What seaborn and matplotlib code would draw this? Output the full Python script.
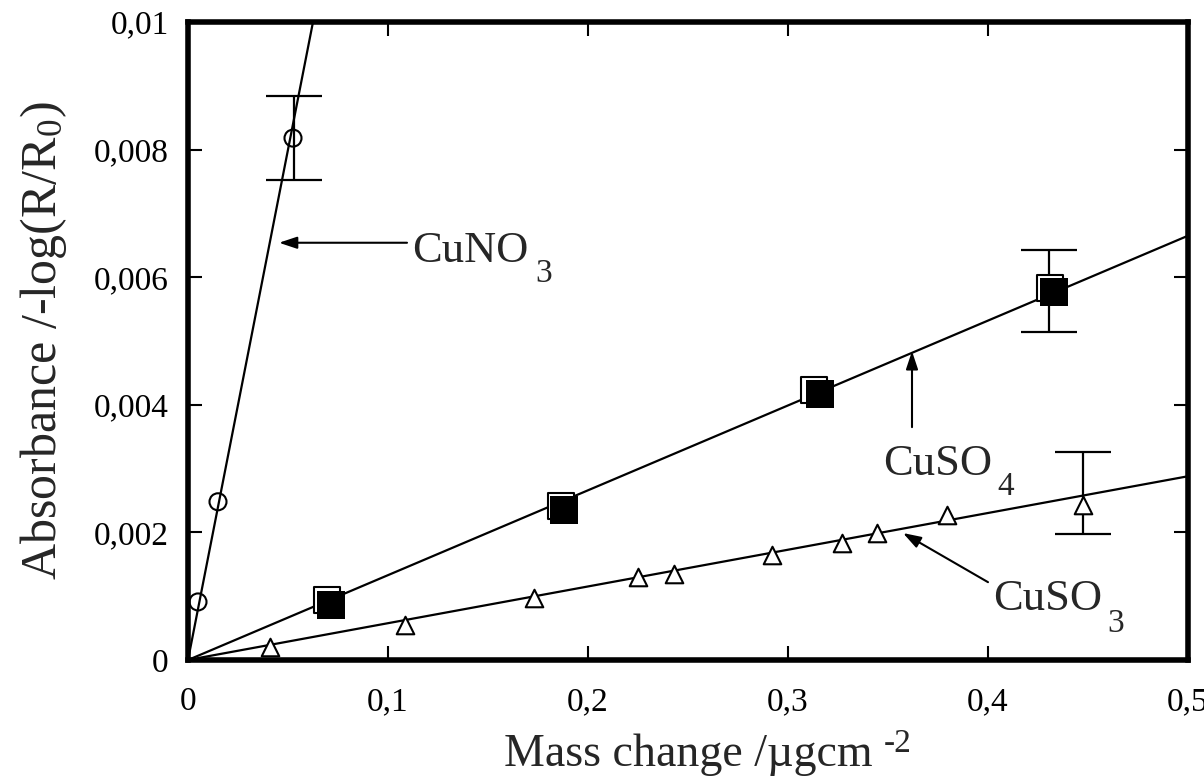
import matplotlib
matplotlib.use("Agg")
import matplotlib.pyplot as plt
from matplotlib.ticker import FuncFormatter
import seaborn as sns
import pandas as pd

# donnees
cuno3_x = [0.005, 0.015, 0.0525]
cuno3_y = [0.00091, 0.00248, 0.00818]

cuso4_open_x = [0.0695, 0.1865, 0.313, 0.431]
cuso4_open_y = [0.00094, 0.00241, 0.00423, 0.00583]
cuso4_fill_x = [0.0715, 0.188, 0.316, 0.433]
cuso4_fill_y = [0.00086, 0.00235, 0.00417, 0.00577]

cuso3_x = [0.041, 0.1085, 0.173, 0.225, 0.243, 0.292, 0.327, 0.3445, 0.3795, 0.4475]
cuso3_y = [0.0002, 0.00055, 0.00097, 0.0013, 0.00135, 0.00165, 0.00183, 0.00199, 0.00227, 0.00243]

# droites d'ajustement (extremites)
cuno3_fit_x = [0.0, 0.0625]
cuno3_fit_y = [0.0, 0.01]
cuso4_fit_x = [0.0, 0.5]
cuso4_fit_y = [0.0, 0.00665]
cuso3_fit_x = [0.005, 0.5]
cuso3_fit_y = [0.00003, 0.00288]

# barres d'erreur
err_x = [0.053, 0.4305, 0.4475]
err_low = [0.00752, 0.00514, 0.00197]
err_high = [0.00884, 0.00643, 0.00326]

sns.set_theme(style="ticks")
plt.rcParams['font.family'] = ['Liberation Serif', 'DejaVu Serif']
plt.rcParams['mathtext.fontset'] = 'custom'
plt.rcParams['mathtext.rm'] = 'Liberation Serif'
plt.rcParams['mathtext.it'] = 'Liberation Serif:italic'

fig = plt.figure(figsize=(12.04, 7.8), dpi=100)
ax = fig.add_axes([188 / 1204, 120 / 780, 1000 / 1204, 638 / 780])

lw = 1.6
sns.lineplot(x=cuno3_fit_x, y=cuno3_fit_y, ax=ax, color='black', lw=lw)
sns.lineplot(x=cuso4_fit_x, y=cuso4_fit_y, ax=ax, color='black', lw=lw)
sns.lineplot(x=cuso3_fit_x, y=cuso3_fit_y, ax=ax, color='black', lw=lw)

err_mid = [(a + b) / 2 for a, b in zip(err_low, err_high)]
err_half = [(b - a) / 2 for a, b in zip(err_low, err_high)]
ax.errorbar(err_x, err_mid, yerr=err_half, fmt='none', ecolor='black',
            elinewidth=1.6, capsize=20, capthick=1.6, zorder=2)

df_no3 = pd.DataFrame({'x': cuno3_x, 'y': cuno3_y})
df_so4o = pd.DataFrame({'x': cuso4_open_x, 'y': cuso4_open_y})
df_so4f = pd.DataFrame({'x': cuso4_fill_x, 'y': cuso4_fill_y})
df_so3 = pd.DataFrame({'x': cuso3_x, 'y': cuso3_y})

sns.scatterplot(data=df_no3, x='x', y='y', ax=ax, marker='o', s=150,
                facecolor='none', edgecolor='black', linewidth=1.5, zorder=3)
sns.scatterplot(data=df_so4o, x='x', y='y', ax=ax, marker='s', s=360,
                facecolor='white', edgecolor='black', linewidth=1.5, zorder=3)
sns.scatterplot(data=df_so4f, x='x', y='y', ax=ax, marker='s', s=420,
                color='black', edgecolor='black', linewidth=0, zorder=4)
sns.scatterplot(data=df_so3, x='x', y='y', ax=ax, marker='^', s=160,
                facecolor='white', edgecolor='black', linewidth=1.5, zorder=3)

ax.set_xlim(0, 0.5)
ax.set_ylim(0, 0.01)
ax.set_xticks([0, 0.1, 0.2, 0.3, 0.4, 0.5])
ax.set_yticks([0, 0.002, 0.004, 0.006, 0.008, 0.01])
virgule = FuncFormatter(lambda v, p: '0' if v == 0 else f'{v:g}'.replace('.', ','))
ax.xaxis.set_major_formatter(virgule)
ax.yaxis.set_major_formatter(virgule)
ax.tick_params(direction='in', length=10, width=1.5, labelsize=24,
               top=True, right=True, colors='black')
ax.tick_params(axis='x', pad=19)
ax.tick_params(axis='y', pad=14)
for s in ax.spines.values():
    s.set_linewidth(4)
    s.set_color('black')

ax.set_xlabel('Mass change /µgcm', fontsize=33, labelpad=12)
fig.text(884 / 1204, 28 / 780, '-2', fontsize=24, va='baseline')
ax.set_ylabel(r'Absorbance /-log(R/R$_0$)', fontsize=36, labelpad=18)

# annotations
fl = dict(arrowstyle='-|>,head_length=0.9,head_width=0.3', color='black', lw=1.5,
          shrinkA=0, shrinkB=0)
ax.annotate('', xy=(0.0455, 0.00654), xytext=(0.1095, 0.00654), arrowprops=fl)
ax.text(0.112, 0.00624, 'CuNO', fontsize=32, va='baseline')
ax.text(0.1735, 0.00592, '3', fontsize=24, va='baseline')

ax.annotate('', xy=(0.362, 0.00484), xytext=(0.362, 0.00365), arrowprops=fl)
ax.text(0.3475, 0.0029, 'CuSO', fontsize=32, va='baseline')
ax.text(0.4045, 0.00259, '4', fontsize=24, va='baseline')

ax.annotate('', xy=(0.3575, 0.00199), xytext=(0.4, 0.00122), arrowprops=fl)
ax.text(0.4025, 0.00078, 'CuSO', fontsize=32, va='baseline')
ax.text(0.4595, 0.00044, '3', fontsize=24, va='baseline')

fig.savefig('out.png', dpi=100)
